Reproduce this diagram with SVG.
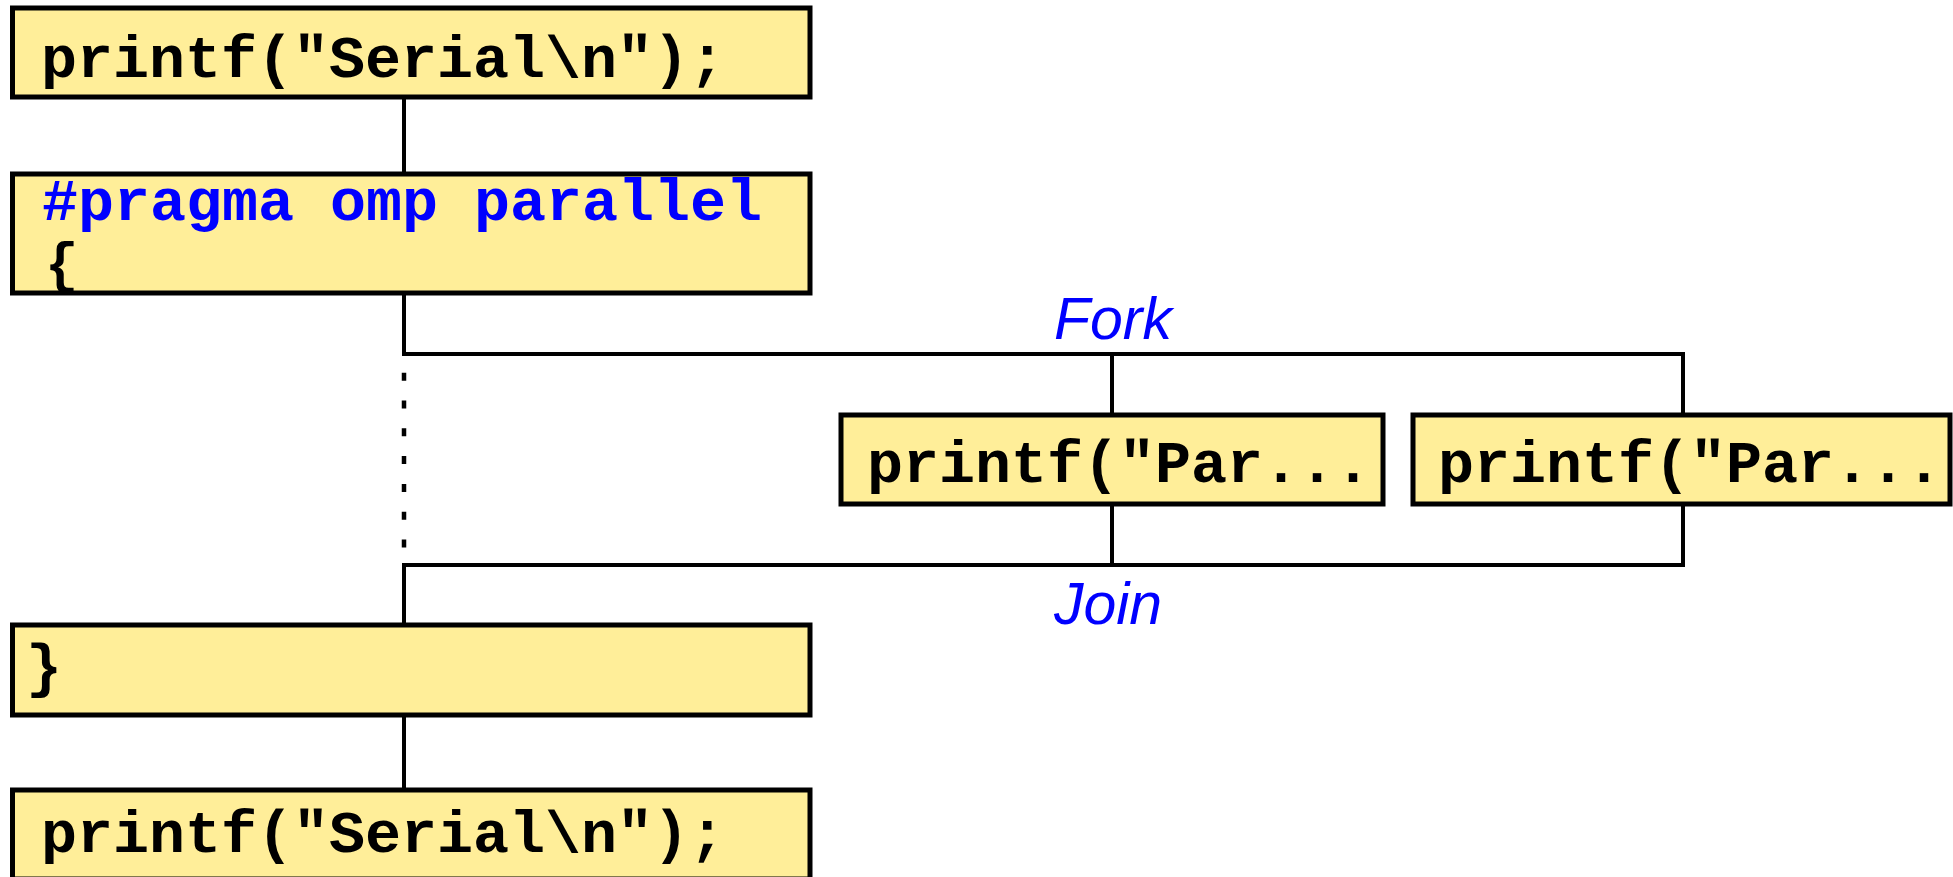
<svg xmlns="http://www.w3.org/2000/svg" width="1953" height="877" viewBox="0 0 1953 877">
<style>
.box{fill:#FFEE99;stroke:#000;stroke-width:5}
.code{font-family:'Courier New','Liberation Mono',monospace;font-weight:bold;font-size:60px;fill:#000}
.kw{fill:#0000FF}
.lbl{font-family:'Liberation Sans',Arial,sans-serif;font-style:italic;font-size:59px;fill:#0000FF;text-anchor:middle}
.con{fill:none;stroke:#000;stroke-width:4}
.dot{fill:none;stroke:#000;stroke-width:4.5;stroke-dasharray:8 19.8}
</style>
<rect width="1953" height="877" fill="#fff"/>
<g id="connectors">
<line class="con" x1="404" y1="97" x2="404" y2="174"/>
<polyline class="con" points="404,293 404,354 1683,354 1683,415"/>
<line class="con" x1="1112" y1="354" x2="1112" y2="415"/>
<line class="dot" x1="404" y1="372.7" x2="404" y2="548"/>
<polyline class="con" points="1112,504 1112,565"/>
<polyline class="con" points="1683,504 1683,565 404,565 404,625"/>
<line class="con" x1="404" y1="715" x2="404" y2="790"/>
</g>
<g id="serial1">
<rect class="box" x="12.5" y="8" width="797.5" height="89"/>
<text class="code" x="41" y="76.7">printf("Serial\n");</text>
</g>
<g id="pragma">
<rect class="box" x="12.5" y="174" width="797.5" height="119"/>
<text class="code kw" x="42" y="220">#pragma omp parallel</text>
<text class="code" x="45" y="281" style="font-size:56px">{</text>
</g>
<g id="fork-label"><text class="lbl" x="1113" y="339">Fork</text></g>
<g id="par1">
<rect class="box" x="841" y="415" width="542" height="89"/>
<text class="code" x="867" y="482">printf("Par...</text>
</g>
<g id="par2">
<rect class="box" x="1413" y="415" width="537" height="89"/>
<text class="code" x="1438" y="482">printf("Par...</text>
</g>
<g id="join-label"><text class="lbl" x="1108" y="624">Join</text></g>
<g id="close">
<rect class="box" x="12.5" y="625" width="797.5" height="90"/>
<text class="code" x="26" y="686">}</text>
</g>
<g id="serial2">
<rect class="box" x="12.5" y="790" width="797.5" height="89"/>
<text class="code" x="41" y="852">printf("Serial\n");</text>
</g>
</svg>
